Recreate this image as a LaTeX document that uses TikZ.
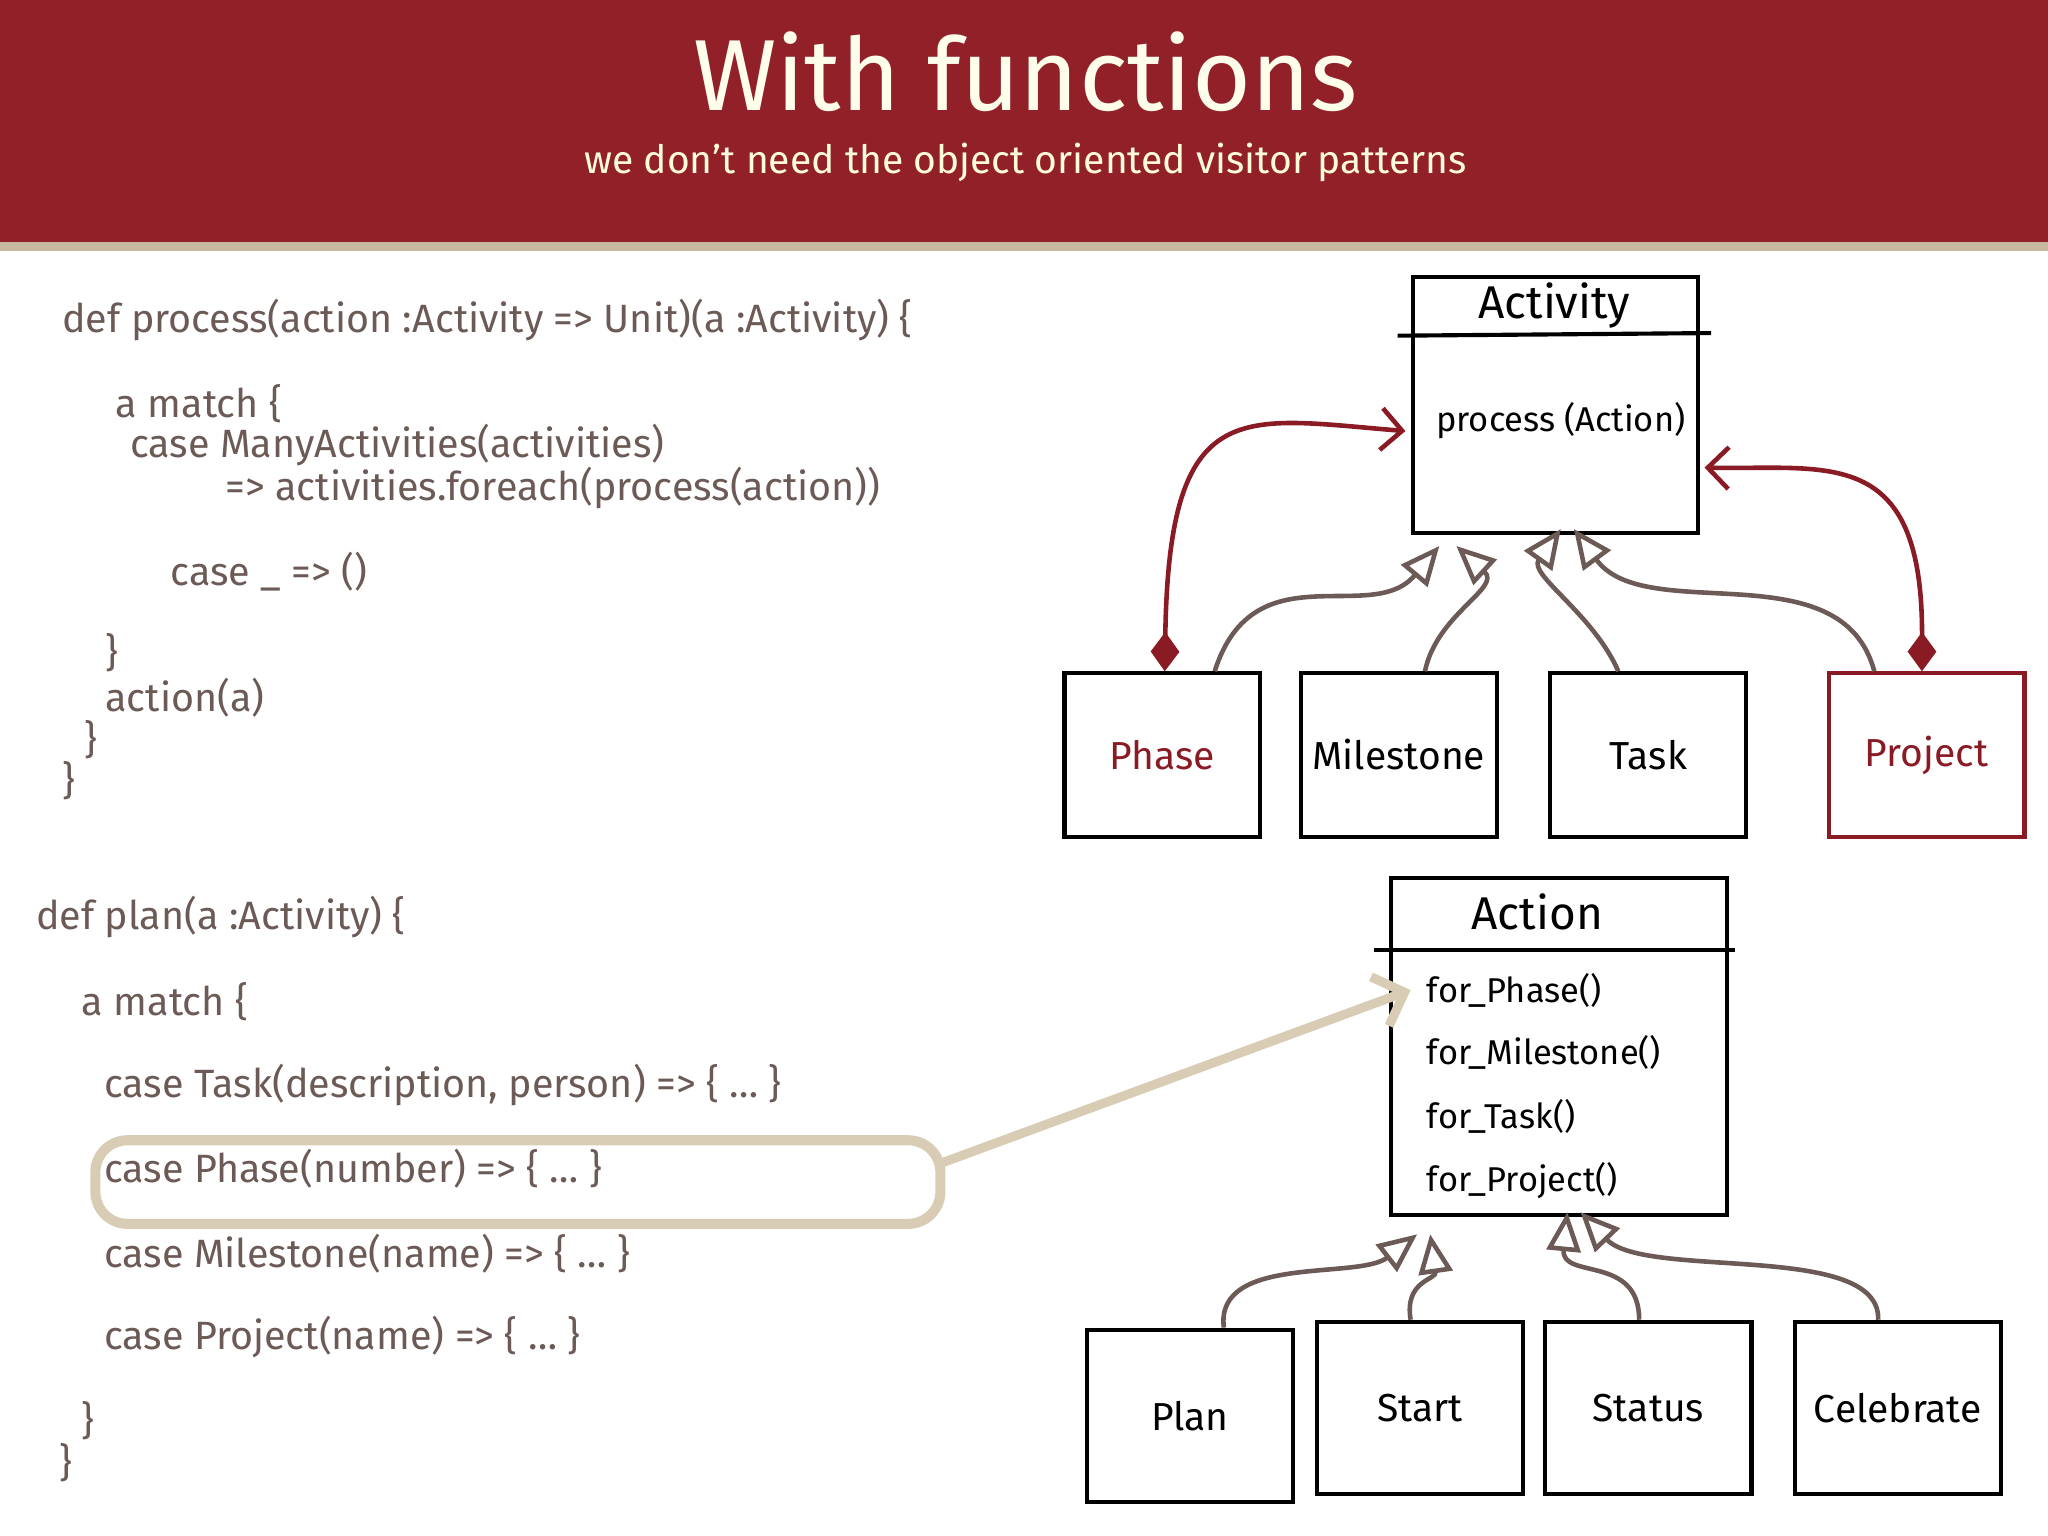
\documentclass[tikz,border=0pt]{standalone}
\usepackage{fontspec}
\setmainfont{Fira Sans}
\usetikzlibrary{arrows.meta}
\definecolor{band}{HTML}{922029}
\definecolor{strip}{HTML}{C8B8A0}
\definecolor{code}{HTML}{6B5A55}
\definecolor{dred}{HTML}{8A1A24}
\definecolor{link}{HTML}{6B5A55}
\definecolor{hl}{HTML}{D8CCB4}
\begin{document}
\begin{tikzpicture}[x=0.1mm,y=-0.1mm,
  codeln/.style={anchor=west,text=code,font=\fontsize{8.6}{10}\selectfont,inner sep=0pt},
  box/.style={draw=black,line width=0.9pt,minimum width=15mm,minimum height=12.5mm,font=\fontsize{8.5}{10}\selectfont,inner sep=0pt},
  meth/.style={anchor=west,font=\fontsize{7.5}{9}\selectfont},
  inh/.style={draw=link,line width=1pt,-{Triangle[open,length=3mm,width=2.6mm]}},
  comp/.style={draw=dred,line width=1pt,{Diamond[length=3mm,width=2.2mm]}-{Straight Barb[length=1.6mm]}}]
\useasboundingbox (0,0) rectangle (1568,1176);
\fill[band] (0,0) rectangle (1568,185);
\fill[strip] (0,185) rectangle (1568,192);
\node[text=white!92!yellow,font=\fontsize{22}{26}\selectfont] (title) at (785,55) {With functions};
\node[text=white!85!yellow,font=\fontsize{8.5}{10}\selectfont] (sub) at (785,124) {we don’t need the object oriented visitor patterns};
% code
\node[codeln] (c1) at (47,245) {def process(action :Activity => Unit)(a :Activity) \{};
\node[codeln] (c2) at (88,309) {a match \{};
\node[codeln] (c3) at (99,341) {case ManyActivities(activities)};
\node[codeln] (c4) at (172,374) {=> activities.foreach(process(action))};
\node[codeln] (c5) at (130,438) {case \_ => ()};
\node[codeln] (c6) at (80,500) {\}};
\node[codeln] (c7) at (80,534) {action(a)};
\node[codeln] (c8) at (64,566) {\}};
\node[codeln] (c9) at (47,598) {\}};
\node[codeln] (d1) at (27,702) {def plan(a :Activity) \{};
\node[codeln] (d2) at (62,767) {a match \{};
\node[codeln] (d3) at (79,831) {case Task(description, person) => \{ … \}};
\node[codeln] (d4) at (79,895) {case Phase(number) => \{ … \}};
\node[codeln] (d5) at (79,960) {case Milestone(name) => \{ … \}};
\node[codeln] (d6) at (79,1024) {case Project(name) => \{ … \}};
\node[codeln] (d7) at (62,1088) {\}};
\node[codeln] (d8) at (45,1120) {\}};
\draw[hl,line width=2.2pt,rounded corners=7pt] (73,873) rectangle (720,937);
\coordinate (hlr) at (722,890);
% Activity
\draw[line width=0.9pt] (1082,212) rectangle (1300,408);
\draw[line width=0.9pt] (1070,257) -- (1310,255);
\node[font=\fontsize{10}{12}\selectfont] (act) at (1190,234) {Activity};
\node[font=\fontsize{7.5}{9}\selectfont] (proc) at (1195,322) {process (Action)};
\coordinate (aL) at (1076,330);
\coordinate (aR) at (1305,358);
\coordinate (aB1) at (1102,418);
\coordinate (aB2) at (1115,418);
\coordinate (aB3) at (1195,405);
\coordinate (aB4) at (1205,405);
\node[box,text=dred] (phase) at (890,578) {Phase};
\node[box] (mile) at (1071,578) {Milestone};
\node[box] (task) at (1262,578) {Task};
\node[box,draw=dred,text=dred] (proj) at (1475,578) {Project};
\draw[comp] ([xshift=0.5pt]phase.north) .. controls (895,300) and (950,320) .. (aL);
\draw[comp] ([xshift=-1pt]proj.north) .. controls (1472,340) and (1400,360) .. (aR);
\draw[inh] ([xshift=4mm]phase.north) .. controls (960,420) and (1050,480) .. (aB1);
\draw[inh] ([xshift=2mm]mile.north) .. controls (1100,470) and (1150,450) .. (aB2);
\draw[inh] ([xshift=-2.3mm]task.north) .. controls (1220,470) and (1170,440) .. (aB3);
\draw[inh] ([xshift=-4mm]proj.north) .. controls (1410,420) and (1260,480) .. (aB4);
% Action
\draw[line width=0.9pt] (1065,672) rectangle (1322,930);
\draw[line width=0.9pt] (1052,727) -- (1328,727);
\node[font=\fontsize{10}{12}\selectfont] (actn) at (1177,698) {Action};
\node[meth] (f1) at (1080,758) {for\_Phase()};
\node[meth] (f2) at (1080,806) {for\_Milestone()};
\node[meth] (f3) at (1080,855) {for\_Task()};
\node[meth] (f4) at (1080,904) {for\_Project()};
\draw[hl,line width=2pt,-{Straight Barb[length=2mm]}] (hlr) -- (f1.west);
\coordinate (bB1) at (1085,945);
\coordinate (bB2) at (1095,945);
\coordinate (bB3) at (1200,928);
\coordinate (bB4) at (1210,928);
\node[box,minimum width=15.8mm,minimum height=13.2mm] (plan) at (911,1084) {Plan};
\node[box,minimum width=15.8mm,minimum height=13.2mm] (start) at (1087,1078) {Start};
\node[box,minimum width=15.8mm,minimum height=13.2mm] (stat) at (1262,1078) {Status};
\node[box,minimum width=15.8mm,minimum height=13.2mm] (celeb) at (1453,1078) {Celebrate};
\draw[inh] ([xshift=2.6mm]plan.north) .. controls (930,960) and (1040,980) .. (bB1);
\draw[inh] ([xshift=-0.7mm]start.north) .. controls (1075,980) and (1100,980) .. (bB2);
\draw[inh] ([xshift=-0.7mm]stat.north) .. controls (1255,960) and (1195,980) .. (bB3);
\draw[inh] ([xshift=-1.5mm]celeb.north) .. controls (1440,950) and (1260,980) .. (bB4);
\end{tikzpicture}
\end{document}
